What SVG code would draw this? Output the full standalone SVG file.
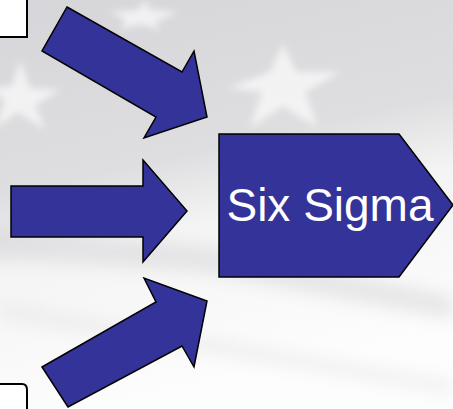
<svg xmlns="http://www.w3.org/2000/svg" width="453" height="409" viewBox="0 0 453 409">
  <defs>
    <linearGradient id="bg" x1="0" y1="0" x2="0.25" y2="1">
      <stop offset="0" stop-color="#d6d6da"/>
      <stop offset="0.45" stop-color="#dedee0"/>
      <stop offset="0.62" stop-color="#f4f4f4"/>
      <stop offset="1" stop-color="#fdfdfd"/>
    </linearGradient>
    <filter id="blur" x="-20%" y="-20%" width="140%" height="140%">
      <feGaussianBlur stdDeviation="3.5"/>
    </filter>
    <filter id="blur2" x="-20%" y="-50%" width="140%" height="200%">
      <feGaussianBlur stdDeviation="8"/>
    </filter>
  </defs>
  <style>
    .arrow { fill: #333399; stroke: #000; stroke-width: 1.5; stroke-linejoin: miter; }
    .box { fill: #fff; stroke: #000; stroke-width: 2; }
    .label { font-family: "Liberation Sans", Arial, sans-serif; font-size: 46px; fill: #fff; }
    .star { fill: #fff; opacity: 0.65; filter: url(#blur); }
  </style>

  <!-- background -->
  <g id="background">
    <rect x="0" y="0" width="453" height="409" fill="url(#bg)"/>
    <path d="M-20 225 L200 245 L453 295 L453 320 L200 272 L-20 258 Z" fill="#d0d0d4" opacity="0.45" filter="url(#blur2)"/>
    <path d="M0 300 L453 380 L453 395 L0 320 Z" fill="#e6e6e6" opacity="0.5" filter="url(#blur2)"/>
    <polygon class="star" points="283,44 296,72 340,72 305,92 318,128 283,106 250,128 262,92 228,88 270,72"/>
    <polygon class="star" points="20,60 30,88 60,90 35,105 45,130 18,112 -5,128 5,100 -15,88 12,86"/>
    <polygon class="star" points="145,0 150,10 178,12 155,22 160,30 140,24 120,30 126,20 110,12 138,10"/>
  </g>

  <!-- side boxes -->
  <g id="box-top">
    <rect class="box" x="-3" y="-3" width="30" height="40"/>
  </g>
  <g id="box-bottom">
    <path class="box" d="M-3 384 L22 384 Q27 384 27 390 L27 412 L-3 412 Z"/>
  </g>

  <!-- connectors (arrows) -->
  <g id="connectors">
    <polygon class="arrow" points="67,7 182,72 194,51 207,117 144,138 156,117 42,51"/>
    <polygon class="arrow" points="11,186 143,186 143,160 187,211 143,262 143,237 11,237"/>
    <polygon class="arrow" points="42,367 156,302 144,278 207,301 194,367 182,346 68,407"/>
  </g>

  <!-- Six Sigma node -->
  <g id="node-six-sigma">
    <polygon class="arrow" points="219,134 399,134 453,205 399,277 219,277"/>
    <text class="label" x="330" y="221" text-anchor="middle">Six Sigma</text>
  </g>
</svg>
